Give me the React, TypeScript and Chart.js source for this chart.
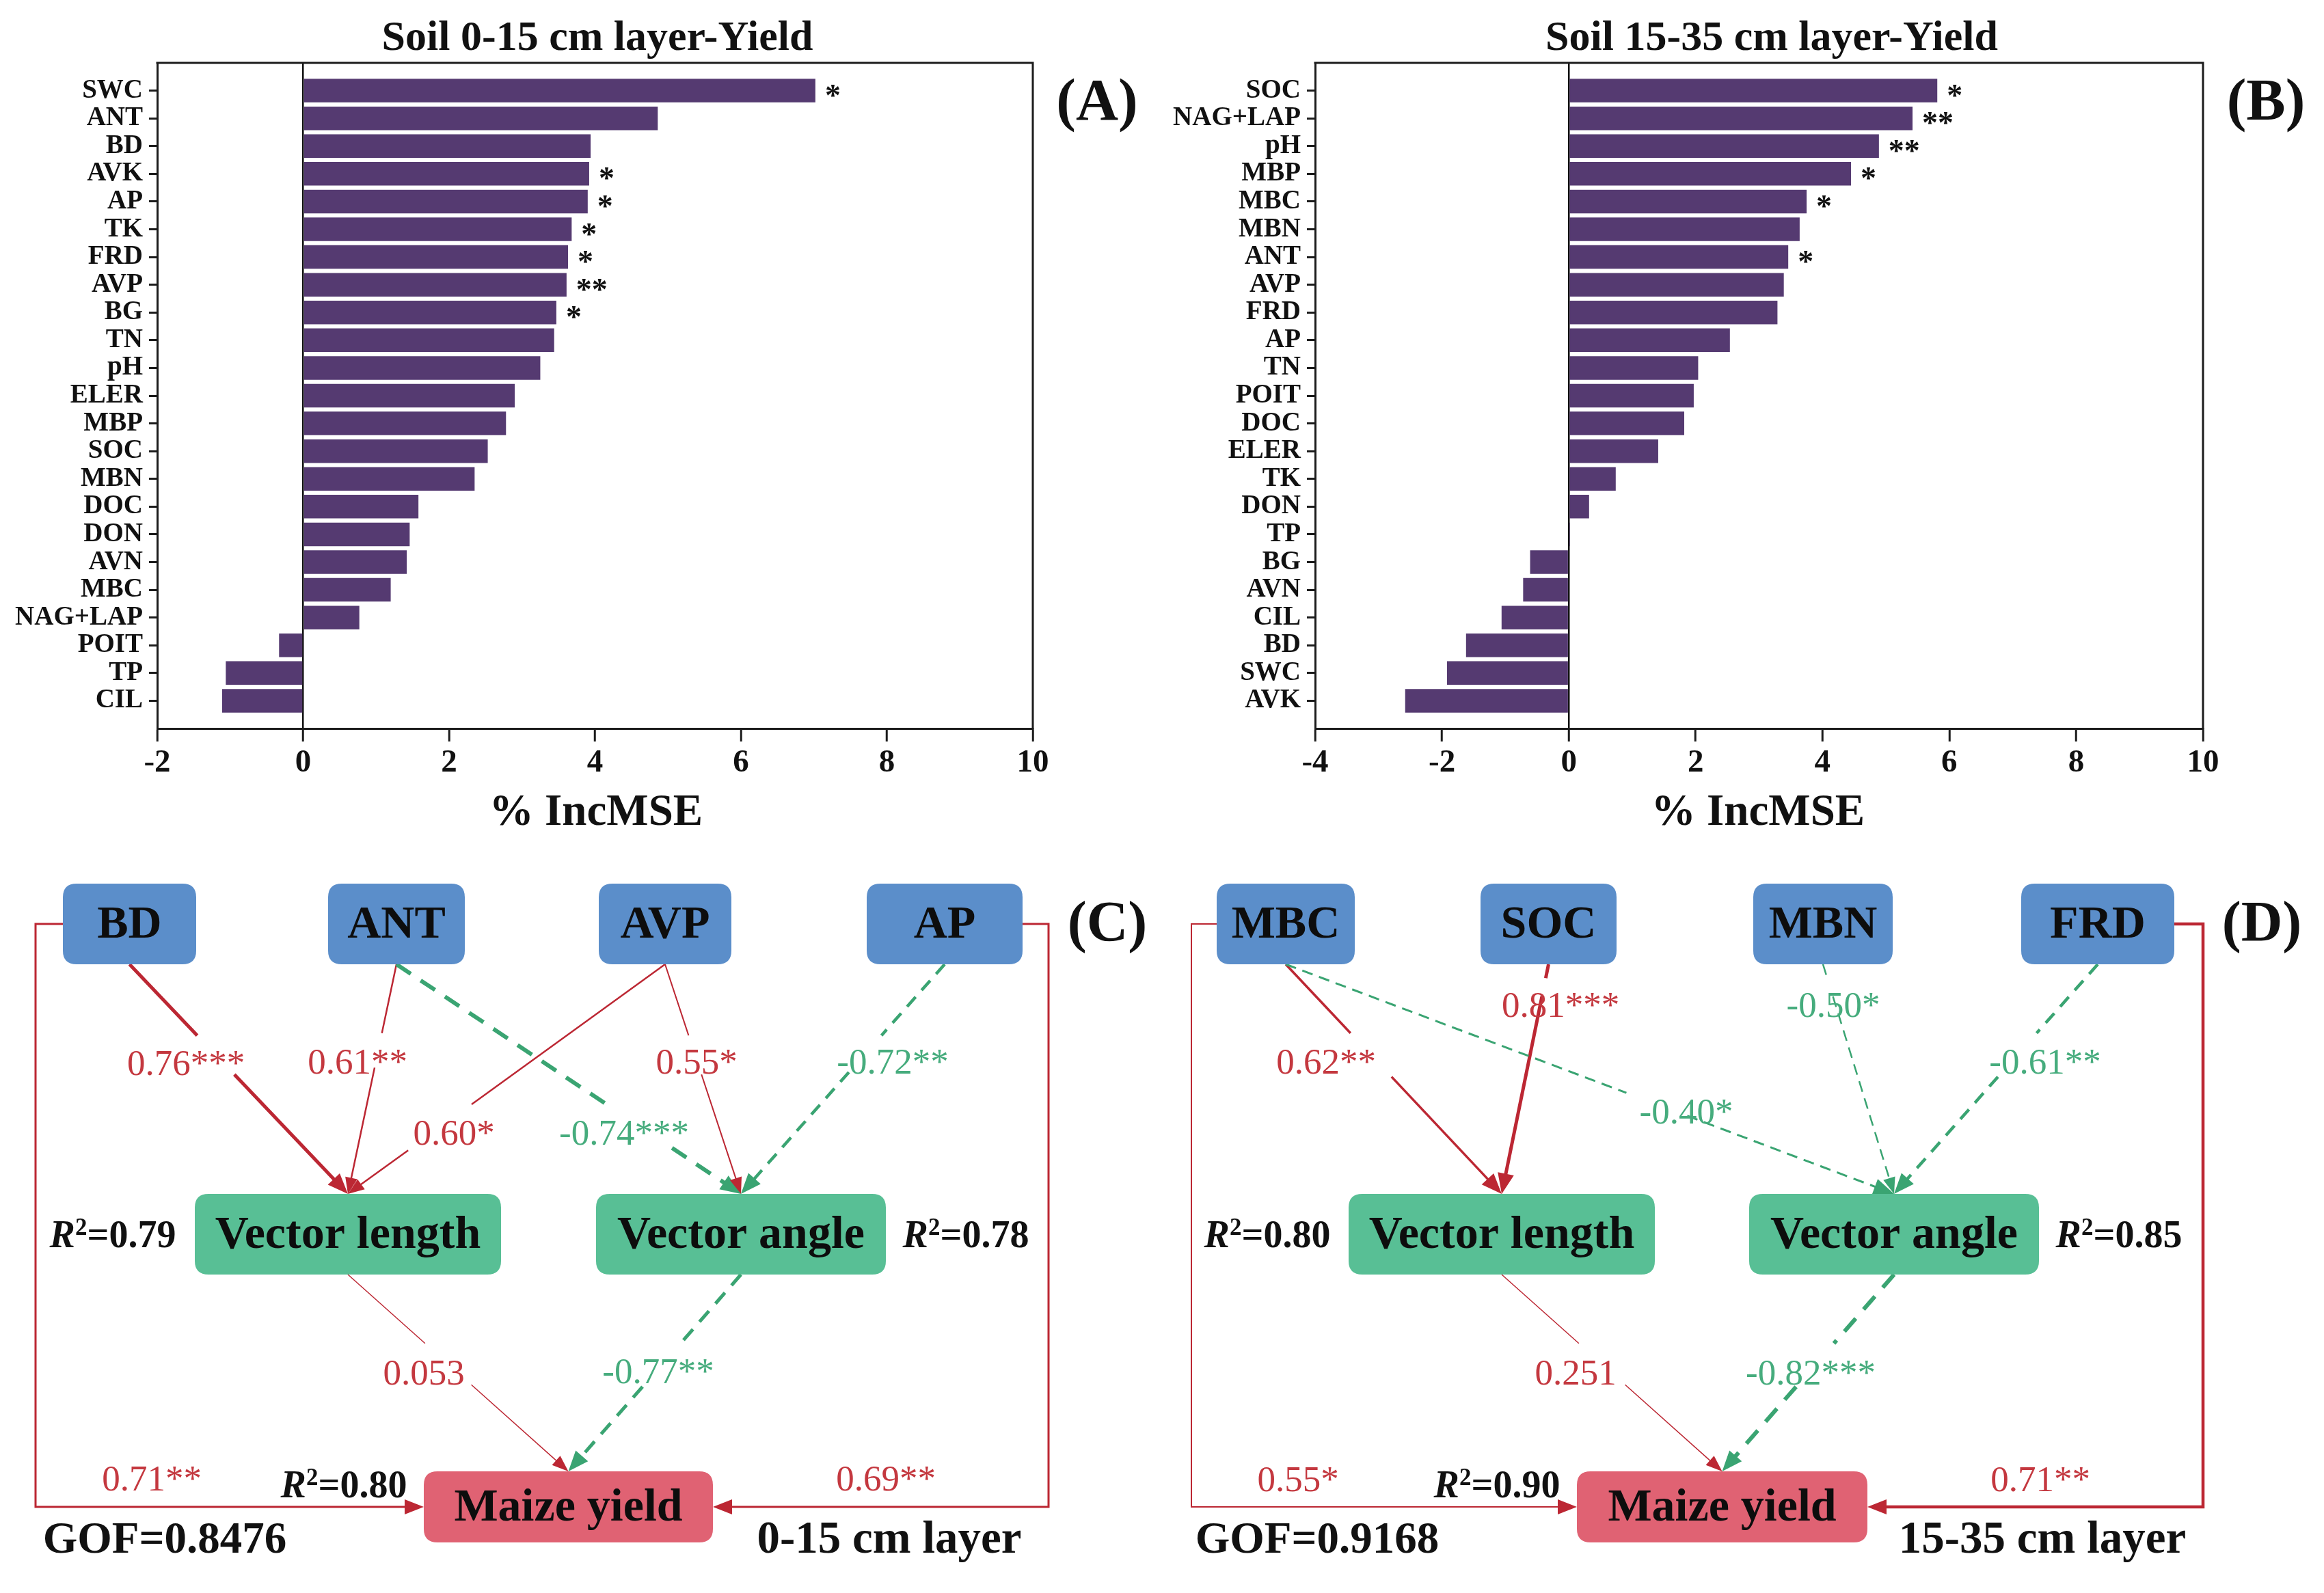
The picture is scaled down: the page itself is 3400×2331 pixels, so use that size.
import React, { useEffect, useRef } from 'react';
import { Chart, registerables } from 'chart.js';

Chart.register(...registerables);

const SERIF = '"Liberation Serif", "Times New Roman", serif';

// ---------------- Panel A data (Soil 0-15 cm) ----------------
const categoriesA = ['SWC', 'ANT', 'BD', 'AVK', 'AP', 'TK', 'FRD', 'AVP', 'BG', 'TN', 'pH', 'ELER', 'MBP', 'SOC', 'MBN', 'DOC', 'DON', 'AVN', 'MBC', 'NAG+LAP', 'POIT', 'TP', 'CIL'];
const incMseA = [7.02, 4.86, 3.94, 3.92, 3.9, 3.68, 3.63, 3.61, 3.47, 3.44, 3.25, 2.9, 2.78, 2.53, 2.35, 1.58, 1.46, 1.42, 1.2, 0.77, -0.33, -1.06, -1.11];
const signifA = ['*', '', '', '*', '*', '*', '*', '**', '*', '', '', '', '', '', '', '', '', '', '', '', '', '', ''];
const xRangeA = [-2, 10];

// ---------------- Panel B data (Soil 15-35 cm) ----------------
const categoriesB = ['SOC', 'NAG+LAP', 'pH', 'MBP', 'MBC', 'MBN', 'ANT', 'AVP', 'FRD', 'AP', 'TN', 'POIT', 'DOC', 'ELER', 'TK', 'DON', 'TP', 'BG', 'AVN', 'CIL', 'BD', 'SWC', 'AVK'];
const incMseB = [5.81, 5.42, 4.89, 4.45, 3.75, 3.64, 3.46, 3.39, 3.29, 2.54, 2.04, 1.97, 1.82, 1.41, 0.74, 0.32, 0.02, -0.61, -0.72, -1.06, -1.62, -1.92, -2.58];
const signifB = ['*', '**', '**', '*', '*', '', '*', '', '', '', '', '', '', '', '', '', '', '', '', '', '', '', ''];
const xRangeB = [-4, 10];

const xTickStep = 2;
const barTitles = ['Soil 0-15 cm layer-Yield', 'Soil 15-35 cm layer-Yield'];
const xAxisTitle = '% IncMSE';
const panelLetters = ['(A)', '(B)', '(C)', '(D)'];

// ---------------- Panel C data (path model, 0-15 cm) ----------------
const exogC = ['BD', 'ANT', 'AVP', 'AP'];
const pathFromC = ['BD', 'ANT', 'AVP', 'ANT', 'AVP', 'AP', 'Vector length', 'Vector angle'];
const pathToC = ['Vector length', 'Vector length', 'Vector length', 'Vector angle', 'Vector angle', 'Vector angle', 'Maize yield', 'Maize yield'];
const pathCoefC = ['0.76', '0.61', '0.60', '-0.74', '0.55', '-0.72', '0.053', '-0.77'];
const pathSigC = ['***', '**', '*', '***', '*', '**', '', '**'];
const directFromC = ['BD', 'AP'];
const directCoefC = ['0.71', '0.69'];
const directSigC = ['**', '**'];
const r2C = ['0.79', '0.78', '0.80'];
const gofC = '0.8476';
const layerC = '0-15 cm layer';

// ---------------- Panel D data (path model, 15-35 cm) ----------------
const exogD = ['MBC', 'SOC', 'MBN', 'FRD'];
const pathFromD = ['MBC', 'SOC', 'MBC', 'MBN', 'FRD', 'Vector length', 'Vector angle'];
const pathToD = ['Vector length', 'Vector length', 'Vector angle', 'Vector angle', 'Vector angle', 'Maize yield', 'Maize yield'];
const pathCoefD = ['0.62', '0.81', '-0.40', '-0.50', '-0.61', '0.251', '-0.82'];
const pathSigD = ['**', '***', '*', '*', '**', '', '***'];
const directFromD = ['MBC', 'FRD'];
const directCoefD = ['0.55', '0.71'];
const directSigD = ['*', '**'];
const r2D = ['0.80', '0.85', '0.90'];
const gofD = '0.9168';
const layerD = '15-35 cm layer';

const mediators = ['Vector length', 'Vector angle'];
const outcome = 'Maize yield';

// ---------------- styles / layout ----------------
const BAR_COLOR = '#553A71';
const AXIS = '#1c1c1c';
const BLUE = '#5B8ECA';
const GREEN_BOX = '#58BF95';
const PINK = '#E06273';
const RED_LINE = '#BC2733';
const RED_TEXT = '#C4383F';
const GREEN_LINE = '#3AA472';
const GREEN_TEXT = '#46AC7D';

const layoutC = {
  xMin: 0,
  boxes: {
    BD: [92, 1293, 287, 1411], ANT: [480, 1293, 680, 1411], AVP: [876, 1293, 1070, 1411], AP: [1268, 1293, 1496, 1411],
    'Vector length': [285, 1747, 733, 1865], 'Vector angle': [872, 1747, 1296, 1865], 'Maize yield': [620, 2153, 1043, 2257],
  } as Record<string, number[]>,
  pathWidth: [5, 2.5, 2.5, 6, 2, 4.5, 1.5, 5],
  pathGap: [[0.31, 0.48], [0.3, 0.45], [0.61, 0.81], [0.61, 0.8], [0.31, 0.48], [0.31, 0.47], [0.35, 0.56], [0.35, 0.57]],
  pathLabel: [[272, 1559], [523, 1557], [664, 1661], [913, 1661], [1019, 1557], [1306, 1557], [620, 2012], [963, 2010]],
  frameX: [52, 1534], frameY: 2205, frameWidth: [3, 3],
  directLabel: [[222, 2167], [1296, 2167]],
  r2Pos: [[165, 1806], [1413, 1806], [503, 2172]],
  gofPos: [241, 2255], layerPos: [1301, 2255], letterPos: [1620, 1355],
};

const layoutD = {
  xMin: 1700,
  boxes: {
    MBC: [1780, 1293, 1982, 1411], SOC: [2166, 1293, 2365, 1411], MBN: [2565, 1293, 2769, 1411], FRD: [2957, 1293, 3181, 1411],
    'Vector length': [1973, 1747, 2421, 1865], 'Vector angle': [2559, 1747, 2983, 1865], 'Maize yield': [2307, 2153, 2732, 2257],
  } as Record<string, number[]>,
  pathWidth: [3.5, 5, 3, 2.5, 4.5, 1.5, 6],
  pathGap: [[0.3, 0.49], [0.06, 0.14], [0.56, 0.66], [0.05, 0.14], [0.3, 0.49], [0.35, 0.56], [0.35, 0.57]],
  pathLabel: [[1940, 1557], [2283, 1474], [2467, 1630], [2682, 1474], [2992, 1557], [2305, 2012], [2649, 2012]],
  frameX: [1743, 3223], frameY: 2205, frameWidth: [2, 4.5],
  directLabel: [[1899, 2168], [2985, 2168]],
  r2Pos: [[1854, 1806], [3100, 1806], [2190, 2172]],
  gofPos: [1927, 2255], layerPos: [2988, 2255], letterPos: [3309, 1355],
};

// ---------------- Bar panel ----------------
type BarProps = {
  left: number; cats: string[]; vals: number[]; sig: string[]; range: number[]; title: string; letter: string;
  yAxisW: number; padRight: number; titleX: number; xTitleX: number; letterX: number;
};

function BarPanel(p: BarProps) {
  const ref = useRef<HTMLCanvasElement | null>(null);
  useEffect(() => {
    const decor = {
      id: 'decor',
      afterDatasetsDraw(chart: any) {
        const ctx = chart.ctx;
        const meta = chart.getDatasetMeta(0);
        ctx.save();
        ctx.fillStyle = '#111';
        ctx.font = `bold 46px ${SERIF}`;
        ctx.textAlign = 'left';
        ctx.textBaseline = 'alphabetic';
        meta.data.forEach((el: any, i: number) => {
          if (p.sig[i]) ctx.fillText(p.sig[i], el.x + 14, el.y + 22);
        });
        ctx.restore();
      },
      afterDraw(chart: any) {
        const { ctx, chartArea: ca } = chart;
        ctx.save();
        ctx.strokeStyle = AXIS;
        ctx.lineWidth = 3;
        ctx.beginPath();
        ctx.moveTo(ca.left - 1.5, ca.top);
        ctx.lineTo(ca.right, ca.top);
        ctx.lineTo(ca.right, ca.bottom + 1.5);
        ctx.stroke();
        ctx.fillStyle = '#111';
        ctx.textAlign = 'center';
        ctx.textBaseline = 'middle';
        ctx.font = `bold 62px ${SERIF}`;
        ctx.fillText(p.title, p.titleX, 57);
        ctx.font = `bold 65px ${SERIF}`;
        ctx.fillText(xAxisTitle, p.xTitleX, 1190);
        ctx.font = `bold 86px ${SERIF}`;
        ctx.fillText(p.letter, p.letterX, 153);
        ctx.restore();
      },
    };
    const chart = new Chart(ref.current as HTMLCanvasElement, {
      type: 'bar',
      data: {
        datasets: [{
          data: p.vals.map((v, i) => ({ x: v, y: i })) as any,
          backgroundColor: BAR_COLOR,
          borderWidth: 0,
          categoryPercentage: 1,
          barPercentage: 0.85,
        }],
      },
      options: {
        indexAxis: 'y',
        responsive: false,
        animation: false,
        layout: { padding: { left: 0, top: 92, right: p.padRight, bottom: 64 } },
        plugins: { legend: { display: false }, tooltip: { enabled: false }, title: { display: false } },
        scales: {
          x: {
            type: 'linear', min: p.range[0], max: p.range[1],
            ticks: { stepSize: xTickStep, font: { family: SERIF, size: 47, weight: 'bold' }, color: '#111', padding: 4 },
            grid: {
              color: (c: any) => (c.tick && c.tick.value === 0 ? '#111' : 'rgba(0,0,0,0)'),
              lineWidth: 2.5, drawTicks: true, tickLength: 19, tickColor: AXIS, tickWidth: 3,
            },
            border: { display: true, color: AXIS, width: 3 },
            afterFit: (s: any) => { s.height = 120; },
          } as any,
          y: {
            type: 'linear', reverse: true, min: -1, max: p.cats.length, offset: false,
            afterBuildTicks: (s: any) => { s.ticks = p.cats.map((_, i) => ({ value: i })); },
            ticks: { autoSkip: false, callback: (v: any) => p.cats[v] ?? '', font: { family: SERIF, size: 39, weight: 'bold' }, color: '#111', padding: 9 },
            grid: { offset: false, drawOnChartArea: false, drawTicks: true, tickLength: 12, tickColor: AXIS, tickWidth: 3 },
            border: { display: true, color: AXIS, width: 3 },
            afterFit: (s: any) => { s.width = p.yAxisW; },
          } as any,
        },
      },
      plugins: [decor],
    });
    return () => chart.destroy();
  }, []);
  return <canvas ref={ref} width={1700} height={1250} style={{ position: 'absolute', left: p.left, top: 0 }} />;
}

// ---------------- Path diagram ----------------
type DiagramData = {
  exog: string[]; from: string[]; to: string[]; coef: string[]; sig: string[];
  directFrom: string[]; directCoef: string[]; directSig: string[]; r2: string[]; gof: string; layer: string; letter: string;
};

function roundRect(ctx: CanvasRenderingContext2D, x: number, y: number, w: number, h: number, r: number) {
  ctx.beginPath();
  ctx.moveTo(x + r, y);
  ctx.lineTo(x + w - r, y);
  ctx.quadraticCurveTo(x + w, y, x + w, y + r);
  ctx.lineTo(x + w, y + h - r);
  ctx.quadraticCurveTo(x + w, y + h, x + w - r, y + h);
  ctx.lineTo(x + r, y + h);
  ctx.quadraticCurveTo(x, y + h, x, y + h - r);
  ctx.lineTo(x, y + r);
  ctx.quadraticCurveTo(x, y, x + r, y);
  ctx.closePath();
}

function arrowHead(ctx: CanvasRenderingContext2D, tx: number, ty: number, ux: number, uy: number, len: number, half: number, color: string) {
  const bx = tx - ux * len, by = ty - uy * len;
  ctx.fillStyle = color;
  ctx.beginPath();
  ctx.moveTo(tx, ty);
  ctx.lineTo(bx - uy * half, by + ux * half);
  ctx.lineTo(bx + uy * half, by - ux * half);
  ctx.closePath();
  ctx.fill();
}

function makeDiagramPlugin(d: DiagramData, L: typeof layoutC) {
  return {
    id: 'pathDiagram',
    afterDraw(chart: any) {
      const ctx: CanvasRenderingContext2D = chart.ctx;
      const xs = chart.scales.x, ys = chart.scales.y;
      const X = (v: number) => xs.getPixelForValue(v);
      const Y = (v: number) => ys.getPixelForValue(v);
      const box = (n: string) => L.boxes[n];
      ctx.save();

      // paths
      d.from.forEach((f, i) => {
        const a = box(f), b = box(d.to[i]);
        const x0 = X((a[0] + a[2]) / 2), y0 = Y(a[3]);
        const x1 = X((b[0] + b[2]) / 2), y1 = Y(b[1]);
        const neg = d.coef[i].startsWith('-');
        const color = neg ? GREEN_LINE : RED_LINE;
        const w = L.pathWidth[i];
        const dx = x1 - x0, dy = y1 - y0, len = Math.hypot(dx, dy);
        const ux = dx / len, uy = dy / len;
        const ah = w >= 3 ? 30 : 24, hw = w >= 3 ? 12 : 9;
        const tEnd = (len - ah + 2) / len;
        const [g0, g1] = L.pathGap[i];
        ctx.strokeStyle = color;
        ctx.lineWidth = w;
        ctx.lineCap = 'butt';
        ctx.setLineDash(neg ? [Math.max(16, w * 4.2), Math.max(10, w * 2.9)] : []);
        ctx.beginPath();
        ctx.moveTo(x0, y0);
        ctx.lineTo(x0 + dx * g0, y0 + dy * g0);
        ctx.moveTo(x0 + dx * g1, y0 + dy * g1);
        ctx.lineTo(x0 + dx * tEnd, y0 + dy * tEnd);
        ctx.stroke();
        ctx.setLineDash([]);
        arrowHead(ctx, x1, y1, ux, uy, ah, hw, color);
      });

      // direct frame paths
      const my = box(outcome);
      d.directFrom.forEach((f, i) => {
        const a = box(f);
        const leftSide = i === 0;
        const sx = leftSide ? X(a[0]) : X(a[2]);
        const sy = Y((a[1] + a[3]) / 2);
        const fx = X(L.frameX[i]);
        const fy = Y(L.frameY);
        const tx = leftSide ? X(my[0]) : X(my[2]);
        const w = L.frameWidth[i];
        const ah = 28, hw = 11;
        const dir = leftSide ? 1 : -1;
        ctx.strokeStyle = RED_LINE;
        ctx.lineWidth = w;
        ctx.lineJoin = 'miter';
        ctx.beginPath();
        ctx.moveTo(sx, sy);
        ctx.lineTo(fx, sy);
        ctx.lineTo(fx, fy);
        ctx.lineTo(tx - dir * (ah - 2), fy);
        ctx.stroke();
        arrowHead(ctx, tx, fy, dir, 0, ah, hw, RED_LINE);
      });

      // boxes
      const drawBox = (n: string, fill: string) => {
        const b = box(n);
        const x = X(b[0]), y = Y(b[1]), w = X(b[2]) - x, h = Y(b[3]) - y;
        ctx.fillStyle = fill;
        roundRect(ctx, x, y, w, h, 20);
        ctx.fill();
        ctx.fillStyle = '#0d0d0d';
        ctx.font = `bold 68px ${SERIF}`;
        ctx.textAlign = 'center';
        ctx.textBaseline = 'middle';
        ctx.fillText(n, x + w / 2, y + h / 2 + 2);
      };
      d.exog.forEach((n) => drawBox(n, BLUE));
      mediators.forEach((n) => drawBox(n, GREEN_BOX));
      drawBox(outcome, PINK);

      // coefficient labels
      ctx.font = `53px ${SERIF}`;
      ctx.textAlign = 'center';
      ctx.textBaseline = 'middle';
      d.coef.forEach((c, i) => {
        ctx.fillStyle = c.startsWith('-') ? GREEN_TEXT : RED_TEXT;
        ctx.fillText(c + d.sig[i], X(L.pathLabel[i][0]), Y(L.pathLabel[i][1]));
      });
      d.directCoef.forEach((c, i) => {
        ctx.fillStyle = c.startsWith('-') ? GREEN_TEXT : RED_TEXT;
        ctx.fillText(c + d.directSig[i], X(L.directLabel[i][0]), Y(L.directLabel[i][1]));
      });

      // R2 labels
      const drawR2 = (cx: number, cy: number, val: string) => {
        const it = `italic bold 56px ${SERIF}`, sup = `bold 35px ${SERIF}`, big = `bold 56px ${SERIF}`;
        ctx.font = it; const wR = ctx.measureText('R').width;
        ctx.font = sup; const w2 = ctx.measureText('2').width;
        ctx.font = big; const wRest = ctx.measureText('=' + val).width;
        let x = cx - (wR + w2 + wRest) / 2;
        const base = cy + 19;
        ctx.fillStyle = '#111';
        ctx.textAlign = 'left';
        ctx.textBaseline = 'alphabetic';
        ctx.font = it; ctx.fillText('R', x, base); x += wR;
        ctx.font = sup; ctx.fillText('2', x, base - 18); x += w2;
        ctx.font = big; ctx.fillText('=' + val, x, base);
      };
      d.r2.forEach((v, i) => drawR2(X(L.r2Pos[i][0]), Y(L.r2Pos[i][1]), v));

      ctx.fillStyle = '#111';
      ctx.textAlign = 'center';
      ctx.textBaseline = 'middle';
      ctx.font = `bold 65px ${SERIF}`;
      ctx.fillText('GOF=' + d.gof, X(L.gofPos[0]), Y(L.gofPos[1]));
      ctx.font = `bold 67px ${SERIF}`;
      ctx.fillText(d.layer, X(L.layerPos[0]), Y(L.layerPos[1]));
      ctx.font = `bold 84px ${SERIF}`;
      ctx.fillText(d.letter, X(L.letterPos[0]), Y(L.letterPos[1]));
      ctx.restore();
    },
  };
}

function Diagram({ data, layout }: { data: DiagramData; layout: typeof layoutC }) {
  const ref = useRef<HTMLCanvasElement | null>(null);
  useEffect(() => {
    const chart = new Chart(ref.current as HTMLCanvasElement, {
      type: 'scatter',
      data: { datasets: [{ data: [] }] },
      options: {
        responsive: false,
        animation: false,
        layout: { padding: 0 },
        plugins: { legend: { display: false }, tooltip: { enabled: false } },
        scales: {
          x: { type: 'linear', display: false, min: layout.xMin, max: layout.xMin + 1700 },
          y: { type: 'linear', display: false, min: 1250, max: 2331, reverse: true },
        },
      },
      plugins: [makeDiagramPlugin(data, layout)],
    });
    return () => chart.destroy();
  }, []);
  return <canvas ref={ref} width={1700} height={1081} style={{ position: 'absolute', left: layout.xMin, top: 1250 }} />;
}

export default function App() {
  const dataC: DiagramData = {
    exog: exogC, from: pathFromC, to: pathToC, coef: pathCoefC, sig: pathSigC,
    directFrom: directFromC, directCoef: directCoefC, directSig: directSigC, r2: r2C, gof: gofC, layer: layerC, letter: panelLetters[2],
  };
  const dataD: DiagramData = {
    exog: exogD, from: pathFromD, to: pathToD, coef: pathCoefD, sig: pathSigD,
    directFrom: directFromD, directCoef: directCoefD, directSig: directSigD, r2: r2D, gof: gofD, layer: layerD, letter: panelLetters[3],
  };
  return (
    <div style={{ position: 'absolute', left: 0, top: 0, width: 3400, height: 2331, background: '#fff', overflow: 'hidden' }}>
      <BarPanel left={0} cats={categoriesA} vals={incMseA} sig={signifA} range={xRangeA} title={barTitles[0]} letter={panelLetters[0]}
        yAxisW={230} padRight={189} titleX={874} xTitleX={872} letterX={1605} />
      <BarPanel left={1700} cats={categoriesB} vals={incMseB} sig={signifB} range={xRangeB} title={barTitles[1]} letter={panelLetters[1]}
        yAxisW={224} padRight={177} titleX={892} xTitleX={872} letterX={1615} />
      <Diagram data={dataC} layout={layoutC} />
      <Diagram data={dataD} layout={layoutD} />
    </div>
  );
}
